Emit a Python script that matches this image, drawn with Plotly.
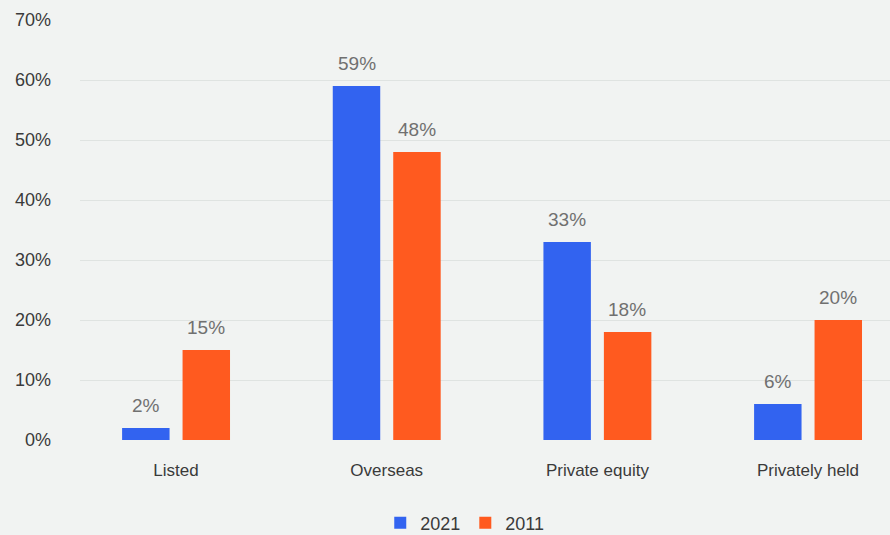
import plotly.graph_objects as go

# Share of holdings by owner type, 2021 vs 2011
categories = ["Listed", "Overseas", "Private equity", "Privately held"]
values_2021 = [2, 59, 33, 6]
values_2011 = [15, 48, 18, 20]
y_ticks = [0, 10, 20, 30, 40, 50, 60, 70]
y_tick_labels = [f"{v}%" for v in y_ticks]

BLUE = "#3263f0"
ORANGE = "#ff5a1f"
BG = "#f1f3f2"
FONT = "Liberation Sans"

fig = go.Figure()
fig.add_trace(go.Bar(name="2021", x=categories, y=values_2021,
                     marker=dict(color=BLUE, line=dict(width=0))))
fig.add_trace(go.Bar(name="2011", x=categories, y=values_2011,
                     marker=dict(color=ORANGE, line=dict(width=0))))

# value labels above each bar
for series, shift in ((values_2021, -30), (values_2011, 30)):
    for cat, val in zip(categories, series):
        fig.add_annotation(x=cat, y=val, text=f"{val}%", showarrow=False,
                           xshift=shift, yshift=10, yanchor="bottom",
                           font=dict(family=FONT, size=19, color="#707070"))

fig.update_layout(
    width=890, height=535,
    margin=dict(l=80, r=0, t=20, b=95, autoexpand=False),
    paper_bgcolor=BG, plot_bgcolor=BG,
    barmode="group", bargap=0.426, bargroupgap=0.215,
    font=dict(family=FONT, size=18, color="#3a3a3a"),
    showlegend=True,
    legend=dict(orientation="h", x=0.475, xanchor="center", y=-0.198,
                yanchor="middle", font=dict(size=18, color="#3a3a3a"),
                itemwidth=30, traceorder="normal", bgcolor="rgba(0,0,0,0)"),
    xaxis=dict(range=[-0.456, 3.389], showgrid=False, showline=False,
               ticks="", ticklabelstandoff=18, tickfont=dict(size=17)),
    yaxis=dict(range=[0, 70], tickvals=y_ticks, ticktext=y_tick_labels,
               showgrid=True, gridcolor="#dfe3e1", gridwidth=1,
               zeroline=False, showline=False, ticks="",
               ticklabelstandoff=28, tickfont=dict(size=18)),
)

fig.write_html("out.html")
